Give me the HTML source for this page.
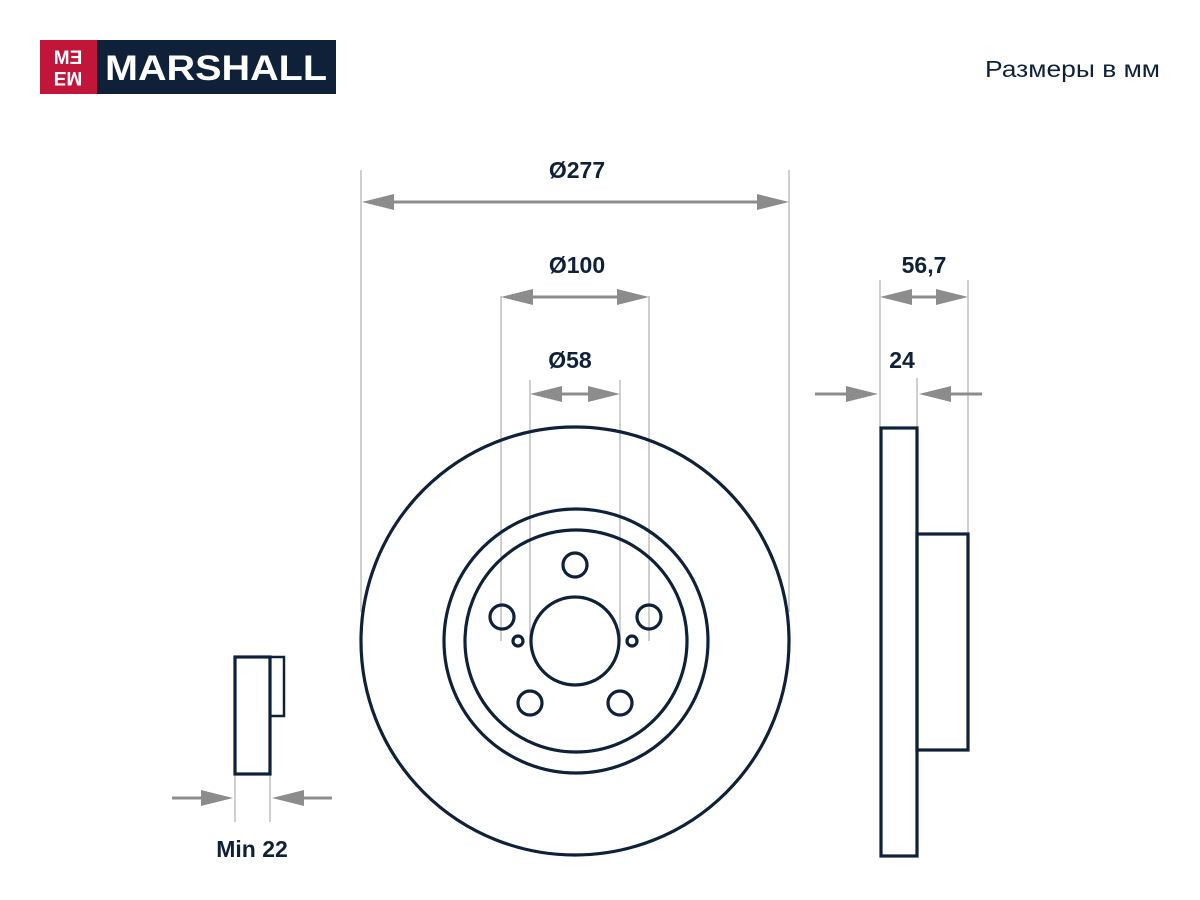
<!DOCTYPE html>
<html><head><meta charset="utf-8"><style>
html,body{margin:0;padding:0;background:#fff;}
svg{display:block;}
</style></head><body>
<svg width="1200" height="900" viewBox="0 0 1200 900" xmlns="http://www.w3.org/2000/svg" font-family="Liberation Sans, DejaVu Sans, sans-serif">
<rect x="40" y="40" width="57" height="54" fill="#c1163a"/>
<rect x="97" y="40" width="239" height="54" fill="#0f2039"/>
<text x="68" y="64" fill="#fff" font-size="19" font-weight="bold" text-anchor="middle">MƎ</text>
<text x="68" y="86" fill="#fff" font-size="19" font-weight="bold" text-anchor="middle" transform="rotate(180 68 79)">MƎ</text>
<text x="216" y="80" fill="#fff" font-size="35" font-weight="bold" text-anchor="middle" textLength="222" lengthAdjust="spacingAndGlyphs">MARSHALL</text>
<text x="1160" y="77" fill="#0f2039" font-size="23" text-anchor="end" textLength="175" lengthAdjust="spacingAndGlyphs">Размеры в мм</text>

<g stroke="#b5b5b5" stroke-width="1.3">
<line x1="361" y1="170" x2="361" y2="612"/>
<line x1="789" y1="170" x2="789" y2="612"/>
<line x1="501" y1="296" x2="501" y2="641"/>
<line x1="649" y1="296" x2="649" y2="641"/>
<line x1="530" y1="380" x2="530" y2="641"/>
<line x1="620" y1="380" x2="620" y2="641"/>
<line x1="880" y1="280" x2="880" y2="428"/>
<line x1="968" y1="280" x2="968" y2="534"/>
<line x1="917" y1="378" x2="917" y2="428"/>
<line x1="235" y1="774" x2="235" y2="822"/>
<line x1="270" y1="774" x2="270" y2="822"/>
</g>

<g stroke="#8c8c8c" stroke-width="3">
<line x1="392" y1="202" x2="759" y2="202"/>
<line x1="531" y1="297" x2="619" y2="297"/>
<line x1="560" y1="394" x2="590" y2="394"/>
<line x1="910" y1="297" x2="938" y2="297"/>
<line x1="815" y1="394" x2="848" y2="394"/>
<line x1="949" y1="394" x2="982" y2="394"/>
<line x1="172" y1="798" x2="203" y2="798"/>
<line x1="302" y1="798" x2="332" y2="798"/>
</g>
<g fill="#8c8c8c">
<polygon points="362,202 394,194 394,210"/>
<polygon points="789,202 757,194 757,210"/>
<polygon points="501,297 533,289 533,305"/>
<polygon points="649,297 617,289 617,305"/>
<polygon points="530,394 562,386 562,402"/>
<polygon points="620,394 588,386 588,402"/>
<polygon points="880,297 912,289 912,305"/>
<polygon points="968,297 936,289 936,305"/>
<polygon points="878,394 846,386 846,402"/>
<polygon points="919,394 951,386 951,402"/>
<polygon points="233,798 201,790 201,806"/>
<polygon points="272,798 304,790 304,806"/>
</g>

<g fill="#0f2039" font-size="23" font-weight="bold" text-anchor="middle">
<text x="577" y="178">Ø277</text>
<text x="577" y="273">Ø100</text>
<text x="570" y="368">Ø58</text>
<text x="924" y="273">56,7</text>
<text x="902" y="368">24</text>
<text x="252" y="857">Min 22</text>
</g>

<g fill="none" stroke="#0f2039" stroke-width="3.2">
<circle cx="575" cy="641" r="214"/>
<circle cx="576" cy="641" r="132"/>
<circle cx="576" cy="641" r="111"/>
<circle cx="575" cy="641" r="44"/>
<circle cx="575" cy="565" r="12"/>
<circle cx="502" cy="617" r="12"/>
<circle cx="649" cy="617" r="12"/>
<circle cx="530" cy="703" r="12"/>
<circle cx="620" cy="703" r="12"/>
<circle cx="518" cy="641" r="5"/>
<circle cx="632" cy="641" r="5"/>
<rect x="881" y="428" width="36" height="428"/>
<rect x="917" y="534" width="51" height="216"/>
<rect x="235" y="657" width="35" height="117"/>
<rect x="270" y="657" width="14" height="59" stroke-width="2.5"/>
</g>
</svg>
</body></html>
